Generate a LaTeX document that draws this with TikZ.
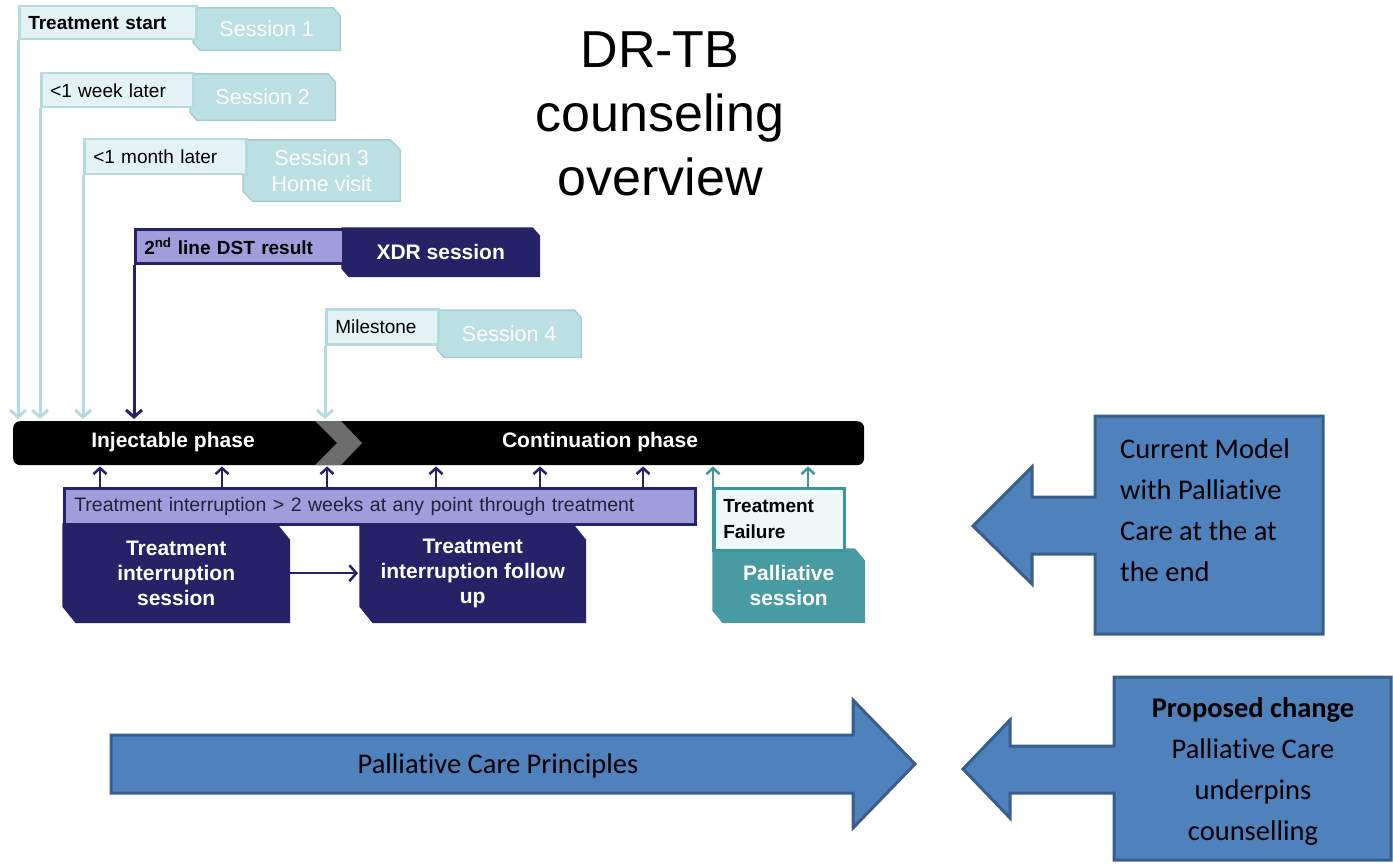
\documentclass[tikz,border=0pt]{standalone}
\usepackage{fontspec}
\setmainfont{Liberation Sans}
\newfontfamily\calib[Ligatures={NoCommon}]{Carlito}
\usetikzlibrary{arrows.meta,backgrounds}
\pgfdeclarelayer{shapes}
\pgfsetlayers{background,shapes,main}

\definecolor{tealL}{HTML}{B5DBDF}
\definecolor{tealF}{HTML}{E3F2F4}
\definecolor{sess}{HTML}{BBDFE3}
\definecolor{sessB}{HTML}{A3CDD3}
\definecolor{navy}{HTML}{252268}
\definecolor{lav}{HTML}{A19CDC}
\definecolor{tealD}{HTML}{489BA0}
\definecolor{tealDB}{HTML}{3E9599}
\definecolor{tealFF}{HTML}{EFF8F9}
\definecolor{blueF}{HTML}{4F81BD}
\definecolor{blueB}{HTML}{395E8B}
\definecolor{chev}{HTML}{6D6D6D}
\definecolor{tdark}{HTML}{22223A}

\newcommand\fs[2]{\fontsize{#1}{#2}\selectfont}

% chamfered outline behind a named node: node, fill, draw, dx, dy
\newcommand\chamf[5]{%
  \begin{pgfonlayer}{shapes}
  \filldraw[fill=#2,draw=#3,line width=1.5pt]
    (#1.north west) -- ([xshift=-#4]#1.north east) -- ([yshift=-#5]#1.north east)
    -- (#1.south east) -- ([xshift=#4]#1.south west) -- ([yshift=#5]#1.south west) -- cycle;
  \end{pgfonlayer}}

\tikzset{
  lbl/.style={anchor=north west, fill=tealF, draw=tealL, line width=2.5pt,
    inner xsep=9pt, inner ysep=0pt, align=left, font=\fs{19}{22}, text=black},
  sessbox/.style={anchor=north west, inner sep=0pt, align=center, text=white,
    font=\fs{21.5}{26}},
  navybox/.style={anchor=north west, inner sep=0pt, align=center, text=white,
    font=\bfseries\fs{21}{25}},
  tealline/.style={draw=tealL, line width=3pt, shorten >=2pt,
    -{Straight Barb[length=7pt,width=16pt]}},
  navyline/.style={draw=navy, line width=3pt, shorten >=2pt,
    -{Straight Barb[length=7pt,width=16pt]}},
  navup/.style={draw=navy, line width=2.5pt, shorten >=1pt,
    -{Straight Barb[length=6pt,width=13pt]}},
  tealup/.style={draw=tealDB, line width=2.5pt, shorten >=1pt,
    -{Straight Barb[length=6pt,width=13pt]}},
  phase/.style={text=white, font=\bfseries\fs{21}{25}, inner sep=0pt},
  callout/.style={fill=blueF, draw=blueB, line width=3pt, line join=miter},
  ctext/.style={font=\calib\fs{28.5}{41}, text=black, inner sep=0pt}
}

\begin{document}
\begin{tikzpicture}[x=1pt,y=-1pt]
\useasboundingbox (0,0) rectangle (1393,864);
\begin{pgfonlayer}{background}
  \fill[white] (0,0) rectangle (1393,864);
\end{pgfonlayer}

% title
\node[align=center, font=\fs{52}{64}, inner sep=0pt] (title) at (660,114) {DR-TB\\counseling\\overview};

% timeline bar
\node[fill=black, rounded corners=7pt, minimum width=851pt, minimum height=44pt,
  inner sep=0pt, anchor=north west] (bar) at (13,421) {};
\fill[chev] (315,421) -- (341,421) -- (362,443) -- (341,465) -- (315,465) -- (337,443) -- cycle;
\node[phase] (inj) at (173,442) {Injectable phase};
\node[phase] (cont) at (600,442) {Continuation phase};

% sessions
\node[sessbox, minimum width=147pt, minimum height=42pt] (s1) at (193,8) {Session 1};
\chamf{s1}{sess}{sessB}{7pt}{8pt}
\node[sessbox, minimum width=145pt, minimum height=46pt] (s2) at (190,74) {Session 2};
\chamf{s2}{sess}{sessB}{7pt}{8pt}
\node[sessbox, minimum width=157pt, minimum height=61pt] (s3) at (243,140) {Session 3\\Home visit};
\chamf{s3}{sess}{sessB}{10pt}{10pt}
\node[sessbox, font=\bfseries\fs{21}{26}, minimum width=197pt, minimum height=48pt] (xdr) at (342,228) {XDR session};
\chamf{xdr}{navy}{navy}{7pt}{8pt}
\node[sessbox, minimum width=144pt, minimum height=47pt] (s4) at (437,310) {Session 4};
\chamf{s4}{sess}{sessB}{7pt}{8pt}

% label boxes
\node[lbl, font=\bfseries\fs{19}{22}, text width=159pt, minimum height=33pt] (ts) at (18,5) {Treatment start};
\node[lbl, text width=134pt, minimum height=34pt] (wk) at (40,72) {<1 week later};
\node[lbl, text width=144pt, minimum height=35pt] (mo) at (83,138) {<1 month later};
\node[lbl, fill=lav, draw=navy, font=\bfseries\fs{19}{22}, text width=190pt, minimum height=34pt] (dst) at (134,228) {2\textsuperscript{nd} line DST result};
\node[lbl, text width=94pt, minimum height=35pt] (ms) at (325,308) {Milestone};

% connectors down to the bar
\draw[tealline] (ts.south west) -- (ts.south west |- bar.north);
\draw[tealline] (wk.south west) -- (wk.south west |- bar.north);
\draw[tealline] (mo.south west) -- (mo.south west |- bar.north);
\draw[navyline] (dst.south west) -- (dst.south west |- bar.north);
\draw[tealline] (ms.south west) -- (ms.south west |- bar.north);

% treatment interruption bar
\node[anchor=north west, fill=lav, draw=navy, line width=2.5pt, text width=611pt,
  inner xsep=10pt, inner ysep=0pt, minimum height=36pt, align=left,
  font=\fs{19.5}{22}, text=tdark] (tib) at (63,487)
  {Treatment interruption > 2 weeks at any point through treatment};
\foreach \d [count=\i] in {37,159,264,373,477,580} {
  \path (tib.north west) ++(\d,0) coordinate (up\i);
  \draw[navup] (up\i) -- (up\i |- bar.south);
}

% interruption sessions
\node[navybox, minimum width=226pt, minimum height=98pt] (tis) at (63,524) {Treatment\\interruption\\session};
\chamf{tis}{navy}{navy}{13pt}{16pt}
\node[navybox, minimum width=225pt, minimum height=98pt] (tif) at (360,524) {Treatment\\interruption follow\\up};
\chamf{tif}{navy}{navy}{13pt}{16pt}
\draw[navyline, line width=2.5pt] (tis.east) -- (tif.west);

% treatment failure / palliative
\node[anchor=north west, fill=tealFF, draw=tealDB, line width=2.5pt, text width=112pt,
  inner xsep=9pt, inner ysep=0pt, minimum height=62pt, align=left,
  font=\bfseries\fs{19}{26}, text=black] (tf) at (713,487) {Treatment\\Failure};
\node[navybox, minimum width=151pt, minimum height=73pt] (ps) at (713,549) {Palliative\\session};
\chamf{ps}{tealD}{tealD}{10pt}{12pt}
\draw[tealup] (tf.south west) -- (tf.south west |- bar.south);
\path (tf.north west) ++(95,0) coordinate (tfu);
\draw[tealup] (tfu) -- (tfu |- bar.south);

% blue callouts
\filldraw[callout] (1095,416) -- (1323,416) -- (1323,634) -- (1095,634) -- (1095,554)
  -- (1032,554) -- (1032,584) -- (973,526) -- (1032,467) -- (1032,497) -- (1095,497) -- cycle;
\node[ctext, anchor=west, align=left] (cmt) at (1120,510) {Current Model\\with Palliative\\Care at the at\\the end};

\filldraw[callout] (1114,677) -- (1391,677) -- (1391,860) -- (1114,860) -- (1114,793)
  -- (1010,793) -- (1010,818) -- (963,769) -- (1010,720) -- (1010,746) -- (1114,746) -- cycle;
\node[ctext, align=center] (pct) at (1253,771) {\textbf{Proposed change}\\Palliative Care\\underpins\\counselling};

\filldraw[callout] (111,735) -- (853,735) -- (853,700) -- (915,764) -- (853,828) -- (853,793) -- (111,793) -- cycle;
\node[ctext] (pcpt) at (498,766) {Palliative Care Principles};
\end{tikzpicture}
\end{document}
